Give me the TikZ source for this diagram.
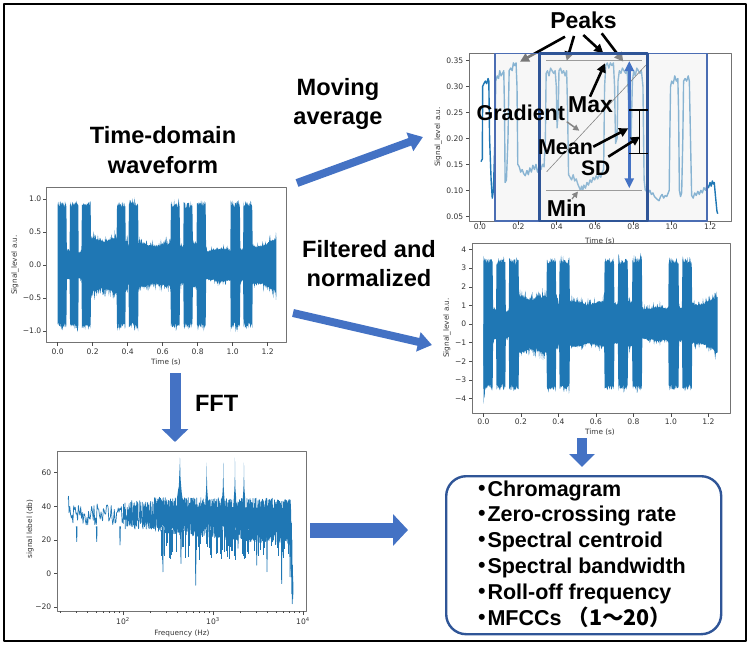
\documentclass[tikz,border=0pt]{standalone}
\usepackage{fontspec}
\setmainfont{Liberation Sans}
\newfontfamily\tickfont{DejaVu Sans}
\newfontfamily\cjk{Noto Sans CJK JP}
\usetikzlibrary{arrows.meta}
\definecolor{mplblue}{HTML}{1F77B4}
\definecolor{offblue}{HTML}{4472C4}
\definecolor{boxblue}{HTML}{2F5597}
\definecolor{lightbox}{HTML}{4B6DB3}
\tikzset{
  ttl/.style={font=\bfseries\fontsize{23.6}{26}\selectfont, inner sep=0pt, anchor=base},
  ann/.style={font=\bfseries\fontsize{22}{24}\selectfont, inner sep=0pt, anchor=base},
  feat/.style={font=\bfseries\fontsize{21.5}{24}\selectfont, inner sep=0pt, anchor=base west},
  tk/.style={font=\tickfont\fontsize{7.6}{9}\selectfont, text=black!80, inner sep=0pt},
  axl/.style={font=\tickfont\fontsize{7.3}{9}\selectfont, text=black!80, inner sep=0pt},
  axframe/.style={draw=black!55, line width=0.6pt},
  tkl/.style={draw=black!70, line width=0.5pt},
  blk/.style={draw=black, line width=2.6pt, -{Triangle[length=9pt,width=9pt]}},
}
\newcommand\featbul{\llap{\cjk ・\kern-5pt}}
\begin{document}
\begin{tikzpicture}[x=1pt,y=-1pt,line join=round,
  declare function={
    bur(\t)=(\t>-0.01)*(\t<0.051)+(\t>0.07)*(\t<0.118)+(\t>0.137)*(\t<0.19)+(\t>0.337)*(\t<0.388)+(\t>0.407)*(\t<0.461)+(\t>0.647)*(\t<0.699)+(\t>0.718)*(\t<0.771)+(\t>0.794)*(\t<0.847)+(\t>0.988)*(\t<1.042)+(\t>1.061)*(\t<1.112);
    bas(\t)=(0.22+(\t>0.19)*0.2-(\t>0.40)*0.09-(\t>0.8)*0.08+(\t>1.1)*(0.04+0.7*(\t-1.1)))*(1+0.07*sin(2400*\t));
    env(\t)=bas(\t)+(1-bas(\t))*bur(\t);
    up(\t)=env(\t)*(0.86+0.1*rnd+(0.32-0.24*bur(\t))*rnd^5);
  }]
\useasboundingbox (0,0) rectangle (750,645);
\pgfmathsetseed{271}

% outer frame
\draw[line width=2pt] (4,4) rectangle (746,641);

% ---------- titles ----------
\node[ttl] (tdw1) at (163,143.3) {Time-domain};
\node[ttl] (tdw2) at (163,173) {waveform};
\node[ttl] (mav1) at (338,95) {Moving};
\node[ttl] (mav2) at (338,124) {average};
\node[ttl] (fn1) at (369,257) {Filtered and};
\node[ttl] (fn2) at (369,286.5) {normalized};
\node[ttl] (fft) at (216.7,411.7) {FFT};

% ---------- block arrows ----------
\coordinate (mas) at (297,183); \coordinate (mae) at (423,137);
\coordinate (fas) at (293,313); \coordinate (fae) at (432,345);
\coordinate (ffs) at (175,373); \coordinate (ffe) at (175,442);
\coordinate (ras) at (310,530); \coordinate (rae) at (408,530);
\coordinate (das) at (582,438); \coordinate (dae) at (582,467);
\draw[offblue, line width=8pt, -{Triangle[length=14pt,width=19pt]}] (mas) -- (mae);
\draw[offblue, line width=8pt, -{Triangle[length=14pt,width=19pt]}] (fas) -- (fae);
\draw[offblue, line width=11pt, -{Triangle[length=13pt,width=26pt]}] (ffs) -- (ffe);
\draw[offblue, line width=15pt, -{Triangle[length=15pt,width=31pt]}] (ras) -- (rae);
\draw[offblue, line width=10pt, -{Triangle[length=13pt,width=25pt]}] (das) -- (dae);

% ---------- left: time-domain waveform ----------
\begin{scope}[shift={(57.7,265)}, xscale=175, yscale=-66]
\fill[mplblue] plot[domain=0:1.25, samples=480, variable=\s] (\s,{up(\s)})
  -- plot[domain=0:1.25, samples=480, variable=\s] ({1.25-\s},{-up(1.25-\s)}) -- cycle;
\end{scope}
\draw[axframe] (46,187) rectangle (286,342);
\foreach \v [count=\i] in {0.0,0.2,0.4,0.6,0.8,1.0,1.2} {
  \draw[tkl] ({57.7+175*\v},342) -- ++(0,3.5);
  \node[tk] (wx\i) at ({57.7+175*\v},352) {\v};
}
\foreach \v/\lab [count=\i] in {1/1.0,0.5/0.5,0/0.0,-0.5/−0.5,-1/−1.0} {
  \draw[tkl] (46,{265-66*\v}) -- ++(-3.5,0);
  \node[tk, anchor=east] (wy\i) at (41.5,{265-66*\v}) {\lab};
}
\node[axl] (wxl) at (166,362) {Time (s)};
\node[axl, rotate=90] (wyl) at (15,265) {Signal\_level a.u.};

% ---------- middle right: filtered ----------
\begin{scope}[shift={(483.3,324)}, xscale=187.5, yscale=-18.6]
\fill[mplblue] plot[domain=0:1.25, samples=480, variable=\s] (\s,{3.7*up(\s)})
  -- plot[domain=0:1.25, samples=480, variable=\s] ({1.25-\s},{-3.7*up(1.25-\s)}) -- cycle;
\fill[mplblue] (0,0) -- (0.002,-4.3) -- (0.005,-3.6) -- (0.008,-4.0) -- (0.012,0) -- cycle;
\end{scope}
\draw[axframe] (472,243) rectangle (730,413);
\foreach \v [count=\i] in {0.0,0.2,0.4,0.6,0.8,1.0,1.2} {
  \draw[tkl] ({483.3+187.5*\v},413) -- ++(0,3.5);
  \node[tk] (nx\i) at ({483.3+187.5*\v},422) {\v};
}
\foreach \v/\lab [count=\i] in {4/4,3/3,2/2,1/1,0/0,-1/−1,-2/−2,-3/−3,-4/−4} {
  \draw[tkl] (472,{324-18.6*\v}) -- ++(-3.5,0);
  \node[tk, anchor=east] (ny\i) at (466.5,{324-18.6*\v}) {\lab};
}
\node[axl] (nxl) at (600,432.5) {Time (s)};
\node[axl, rotate=90] (nyl) at (447,328) {Signal\_level a.u.};

% ---------- top right: moving average ----------
\draw[axframe] (469,53.3) rectangle (731,221);
\begin{scope}[shift={(480,242.3)}, xscale=191.7, yscale=-520]
\draw[mplblue, line width=1.4pt] plot coordinates {
(0.005,0.155) (0.012,0.16) (0.014,0.30) (0.02,0.305) (0.028,0.31) (0.035,0.305) (0.042,0.315) (0.046,0.31) (0.05,0.20) (0.058,0.12) (0.064,0.085) (0.07,0.10) (0.078,0.2) (0.082,0.31) (0.09,0.32) (0.097,0.315) (0.103,0.33) (0.11,0.32) (0.118,0.325) (0.124,0.33) (0.128,0.25) (0.131,0.115) (0.138,0.12) (0.146,0.2) (0.152,0.33) (0.16,0.335) (0.168,0.33) (0.174,0.345) (0.18,0.34) (0.188,0.345) (0.193,0.3) (0.197,0.15) (0.205,0.145) (0.212,0.135) (0.22,0.14) (0.228,0.132) (0.236,0.128) (0.245,0.138) (0.252,0.13) (0.26,0.143) (0.268,0.135) (0.276,0.148) (0.284,0.14) (0.292,0.15) (0.3,0.135) (0.31,0.145) (0.318,0.14) (0.326,0.15) (0.334,0.145) (0.341,0.2) (0.345,0.325) (0.352,0.33) (0.36,0.32) (0.368,0.335) (0.376,0.33) (0.384,0.325) (0.392,0.33) (0.398,0.3) (0.402,0.22) (0.408,0.25) (0.412,0.33) (0.42,0.335) (0.428,0.325) (0.436,0.33) (0.444,0.32) (0.452,0.33) (0.457,0.25) (0.462,0.13) (0.47,0.125) (0.478,0.12) (0.486,0.13) (0.494,0.118) (0.502,0.122) (0.51,0.112) (0.518,0.105) (0.524,0.1) (0.53,0.108) (0.536,0.1) (0.542,0.11) (0.55,0.104) (0.558,0.115) (0.566,0.11) (0.574,0.12) (0.582,0.115) (0.59,0.125) (0.598,0.12) (0.606,0.128) (0.614,0.122) (0.622,0.13) (0.63,0.125) (0.638,0.135) (0.645,0.14) (0.65,0.3) (0.656,0.34) (0.664,0.345) (0.672,0.335) (0.68,0.345) (0.688,0.34) (0.696,0.345) (0.702,0.3) (0.707,0.19) (0.715,0.2) (0.72,0.31) (0.727,0.33) (0.735,0.325) (0.743,0.335) (0.751,0.33) (0.76,0.325) (0.768,0.33) (0.774,0.28) (0.78,0.18) (0.788,0.2) (0.795,0.31) (0.802,0.33) (0.81,0.32) (0.818,0.335) (0.826,0.33) (0.834,0.325) (0.842,0.33) (0.85,0.3) (0.856,0.12) (0.862,0.1) (0.87,0.098) (0.878,0.095) (0.886,0.1) (0.894,0.092) (0.902,0.095) (0.91,0.088) (0.918,0.085) (0.926,0.082) (0.934,0.08) (0.942,0.088) (0.95,0.092) (0.958,0.085) (0.966,0.09) (0.974,0.088) (0.982,0.095) (0.987,0.1) (0.99,0.2) (0.994,0.3) (1.0,0.31) (1.008,0.305) (1.016,0.32) (1.024,0.31) (1.032,0.315) (1.036,0.25) (1.04,0.1) (1.046,0.088) (1.052,0.095) (1.058,0.2) (1.062,0.31) (1.07,0.315) (1.078,0.31) (1.086,0.32) (1.092,0.31) (1.098,0.2) (1.104,0.09) (1.112,0.085) (1.12,0.095) (1.128,0.09) (1.136,0.098) (1.144,0.092) (1.152,0.1) (1.16,0.095) (1.168,0.105) (1.176,0.1) (1.184,0.11) (1.192,0.105) (1.2,0.115) (1.206,0.108) (1.212,0.118) (1.218,0.112) (1.222,0.115) (1.228,0.09) (1.236,0.06) (1.24,0.055)};
\end{scope}
% annotations under the overlay
\coordinate (mxl1) at (546,60.3); \coordinate (mxl2) at (641.7,60.3);
\coordinate (mnl1) at (546,190.7); \coordinate (mnl2) at (641.7,190.7);
\coordinate (grl1) at (546.7,171.7); \coordinate (grl2) at (646,65);
\draw[black!80, line width=0.9pt] (mxl1) -- (mxl2);
\draw[black!80, line width=0.9pt] (mnl1) -- (mnl2);
\draw[black, line width=0.6pt] (grl1) -- (grl2);
\node[ann, font=\bfseries\fontsize{23}{25}\selectfont] (peaks) at (583.5,28.3) {Peaks};
\coordinate (pa1) at (565,36.7); \coordinate (pb1) at (520,61.7);
\coordinate (pa2) at (574,36); \coordinate (pb2) at (566.7,60.7);
\coordinate (pa3) at (583.3,35); \coordinate (pb3) at (603.3,53.3);
\coordinate (pa4) at (601.7,33.3); \coordinate (pb4) at (623.3,61.7);
\draw[blk] (pa1) -- (pb1);
\draw[blk] (pa2) -- (pb2);
\draw[blk] (pa3) -- (pb3);
\draw[blk] (pa4) -- (pb4);
\coordinate (ga1) at (566.7,121.7); \coordinate (ga2) at (579.3,130.7);
\draw[blk, line width=1.5pt, -{Triangle[length=6pt,width=6pt]}] (ga1) -- (ga2);
\coordinate (mi1) at (572,199); \coordinate (mi2) at (578,191.5);
\draw[blk, line width=1.2pt, -{Triangle[length=6pt,width=6pt]}] (mi1) -- (mi2);
% overlay boxes
\fill[black!6, fill opacity=0.5] (495,53.3) rectangle (706.7,221);
\draw[lightbox, line width=1.6pt] (495,53.3) rectangle (706.7,221);
\fill[black!10, fill opacity=0.12] (539.3,53.3) rectangle (647.7,221);
\draw[boxblue, line width=2.6pt] (539.3,53.3) rectangle (647.7,221);
% overlay annotations
\coordinate (dbl1) at (629.3,61); \coordinate (dbl2) at (629.3,188.3);
\draw[offblue, line width=3pt, {Triangle[length=10pt,width=9pt]}-{Triangle[length=10pt,width=9pt]}] (dbl1) -- (dbl2);
\coordinate (sdt1) at (639.3,110); \coordinate (sdt2) at (639.3,153.3);
\draw[black, line width=1.6pt] (sdt1) -- (sdt2) (629.3,110) -- (647.7,110) (629.3,153.3) -- (647.7,153.3);
\node[ann, font=\bfseries\fontsize{23}{25}\selectfont] (maxt) at (590.5,112.3) {Max};
\node[ann, font=\bfseries\fontsize{21.5}{24}\selectfont] (gradt) at (520.8,120) {Gradient};
\node[ann, font=\bfseries\fontsize{21.5}{24}\selectfont] (meant) at (565.5,154) {Mean};
\node[ann, font=\bfseries\fontsize{21}{24}\selectfont] (sdt) at (595.8,175.7) {SD};
\node[ann, font=\bfseries\fontsize{23}{25}\selectfont] (mint) at (566.7,216) {Min};
\coordinate (ma1) at (590,96.7); \coordinate (ma2) at (605,63.3);
\coordinate (me1) at (593.3,146.7); \coordinate (me2) at (628.3,128.3);
\coordinate (sd1) at (608.3,156.7); \coordinate (sd2) at (640,136.7);
\draw[blk] (ma1) -- (ma2);
\draw[blk] (me1) -- (me2);
\draw[blk] (sd1) -- (sd2);
% ticks
\foreach \v [count=\i] in {0.0,0.2,0.4,0.6,0.8,1.0,1.2} {
  \draw[tkl] ({480+191.7*\v},221) -- ++(0,3.5);
  \node[tk] (mx\i) at ({480+191.7*\v},227) {\v};
}
\foreach \v [count=\i] in {0.35,0.30,0.25,0.20,0.15,0.10,0.05} {
  \draw[tkl] (469,{60.3+(0.35-\v)*520}) -- ++(-3.5,0);
  \node[tk, anchor=east] (my\i) at (463.5,{60.3+(0.35-\v)*520}) {\v};
}
\node[axl] (mxl) at (600,241) {Time (s)};
\node[axl, rotate=90] (myl) at (438.3,137) {Signal\_level a.u.};

% ---------- bottom left: FFT ----------
\begin{scope}[shift={(-57,573.5)}, xscale=90, yscale=-1.68]
\draw[mplblue, line width=0.7pt] (1.39,44) -- (1.395,46)
  -- plot[domain=1.40:2.0, samples=70, variable=\s] (\s,{35+6.5*rand})
  -- plot[domain=2.0:2.35, samples=140, variable=\s] (\s,{35+8.5*rand})
  -- plot[domain=2.35:3.86, samples=1700, variable=\s] (\s,{35-3*(\s-2.35)+(10.5+2.5*(\s-2.35))*rand})
  -- (3.862,10) -- (3.865,38) -- (3.868,-2) -- (3.872,30) -- (3.875,-12) -- (3.878,20) -- (3.881,-18) -- (3.884,5) -- (3.887,-15) -- (3.89,-5);
\fill[mplblue] (2.45,31) -- (3.0,29) -- (3.3,27) -- (3.6,25) -- (3.85,24) -- (3.85,39) -- (2.45,40) -- cycle;
\foreach \L/\dv in {1.486/19,1.708/19,1.967/17,2.444/1,2.644/6,2.808/-7,3.278/15,3.486/5,3.6/1,3.763/-6,3.856/-2}
  \draw[mplblue, line width=0.8pt] ({\L-0.004},28) -- (\L,\dv) -- ({\L+0.004},28);
\foreach \i in {1,...,110} {
  \pgfmathsetmacro\L{2.42+1.42*rnd}
  \pgfmathsetmacro\dv{8+14*rnd}
  \draw[mplblue, line width=0.6pt] (\L,26) -- (\L,\dv);
}
\fill[mplblue] (2.598,30) -- (2.598,44) -- (2.613,50) -- (2.621,52) -- (2.625,58) -- (2.63,64) -- (2.633,69) -- (2.635,66) -- (2.638,58) -- (2.643,54) -- (2.653,48) -- (2.663,44) -- (2.663,30) -- cycle;
\foreach \P/\h in {2.93/66,3.114/66,3.244/69,3.344/66}
  \fill[mplblue] ({\P-0.014},30) -- ({\P-0.014},44) -- ({\P-0.006},50) -- ({\P-0.002},58) -- (\P,\h) -- ({\P+0.002},58) -- ({\P+0.006},50) -- ({\P+0.014},44) -- ({\P+0.014},30) -- cycle;
\end{scope}
\draw[axframe] (57,451) rectangle (306,611);
\foreach \v/\lab [count=\i] in {60/60,40/40,20/20,0/0,-20/−20} {
  \draw[tkl] (57,{573.5-1.68*\v}) -- ++(-3.5,0);
  \node[tk, anchor=east] (fy\i) at (51.5,{573.5-1.68*\v}) {\lab};
}
\foreach \e [count=\i] in {2,3,4} {
  \draw[tkl] ({123+90*(\e-2)},611) -- ++(0,3.5);
  \node[tk] (fx\i) at ({123+90*(\e-2)},621) {10\textsuperscript{\e}};
}
\foreach \k in {2,...,9} \foreach \d in {1,2,3}
  \draw[tkl, line width=0.4pt] ({-57+90*(log10(\k)+\d)},611) -- ++(0,2);
\node[axl] (fxl) at (182,633) {Frequency (Hz)};
\node[axl, rotate=90] (fyl) at (30,529) {signal lebel (db)};

% ---------- features box ----------
\node[draw=boxblue, line width=2.4pt, rounded corners=20pt, minimum width=275pt, minimum height=158pt, inner sep=0pt, anchor=north west] (featbox) at (445,475) {};
\node[feat] (f1) at (487.3,496) {\featbul Chromagram};
\node[feat] (f2) at (487.3,521.8) {\featbul Zero-crossing rate};
\node[feat] (f3) at (487.3,547.6) {\featbul Spectral centroid};
\node[feat] (f4) at (487.3,573.4) {\featbul Spectral bandwidth};
\node[feat] (f5) at (487.3,599.2) {\featbul Roll-off frequency};
\node[feat] (f6) at (487.3,625) {\featbul MFCCs {\cjk （1～20）}};
\end{tikzpicture}
\end{document}
